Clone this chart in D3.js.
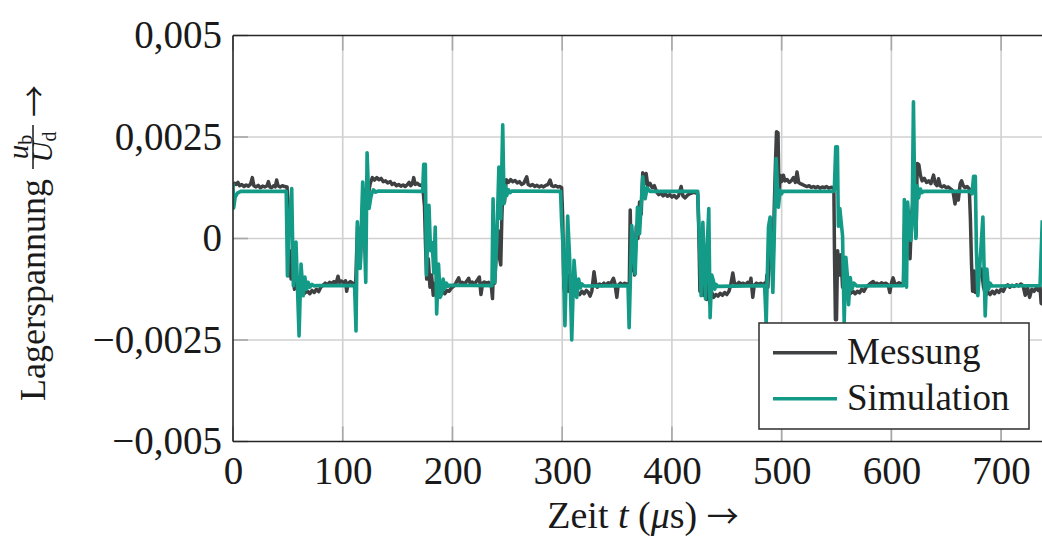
<!DOCTYPE html>
<html><head><meta charset="utf-8">
<script src="https://cdn.jsdelivr.net/npm/d3@7"></script>
<style>
html,body{margin:0;padding:0;background:#fff;}
svg{display:block;font-family:"Liberation Serif","Times New Roman",serif;}
</style></head><body>
<svg id="chart" width="1042" height="538"></svg>
<script>
// ---- data (time in µs, voltage ratio in units of 10^-3) ----
const xTicks = [0, 100, 200, 300, 400, 500, 600, 700];
const yTicks = [-5, -2.5, 0, 2.5, 5];
const yTickLabels = ["\u22120,005", "\u22120,0025", "0", "0,0025", "0,005"];
const seriesNames = ["Messung", "Simulation"];

const messung = [
 [0,1.30],[1.5,1.36],[3,1.33],[4.5,1.38],[6,1.30],[8,1.33],[10,1.28],[12,1.32],[14,1.29],[16,1.34],[17.6,1.50],[19,1.30],[21,1.27],[23,1.31],[25,1.25],[27,1.29],[29,1.27],[31,1.30],[32.3,1.40],[33.5,1.27],[35,1.25],[37,1.30],[38.5,1.27],[39.8,1.44],[41,1.30],[43,1.27],[45,1.30],[47,1.28],[49.3,1.27],
 [50.3,0.4],[51,-0.92],[52,-0.3],[53,-1.0],[54.5,-0.7],[56,-1.25],[58,-1.1],[60,-1.35],[62,-1.28],[64,-1.38],[66,-1.33],[68,-1.3],[70,-1.36],[72,-1.28],[74,-1.33],[76,-1.25],[78,-1.31],[80,-1.2],[82,-1.15],[84,-1.1],[86,-1.14],[88,-1.08],[90,-1.11],[92,-1.06],[94,-1.1],[95.7,-0.93],[97,-1.08],[99,-1.05],[101,-1.1],[102.5,-1.04],[103.6,-1.3],[105,-1.1],[107,-1.06],[109,-1.1],[110.5,-1.12],
 [111.5,-1.4],[112.5,-0.5],[113.5,0.3],[114.5,-0.4],[116,-0.7],[117.5,0.5],[119,1.2],[120.5,0.8],[122,1.5],[123.5,1.1],[125,1.35],[127,1.5],[129,1.44],[131,1.5],[133,1.45],[135,1.48],[137,1.4],[139,1.42],[141,1.37],[143.4,1.4],[145,1.33],[147,1.36],[149,1.3],[151,1.33],[153,1.29],[155,1.32],[157,1.28],[159,1.33],[160.5,1.38],[162,1.3],[163.5,1.36],[164.7,1.5],[166,1.33],[168,1.36],[170,1.31],[172.5,1.32],
 [173.5,1.1],[174.5,0.8],[175.5,-0.2],[176.5,-1.0],[178,-0.5],[179.5,-1.2],[181,-0.9],[182.5,-1.4],[184,-1.1],[185.5,-1.45],[187,-1.2],[189,-1.38],[191,-1.3],[193,-1.36],[195,-1.28],[197,-1.3],[199,-1.22],[201,-1.18],[203,-1.1],[205.7,-0.97],[207,-1.1],[209,-1.08],[211,-1.12],[213,-1.05],[214.8,-0.98],[216,-1.1],[218,-1.07],[220,-1.12],[222,-1.05],[224.5,-0.95],[226,-1.38],[227.5,-1.1],[229,-1.07],[231,-1.1],[233,-1.08],[234.5,-1.15],
 [235.5,-1.2],[236.5,-1.48],[237.5,-0.6],[238.5,-1.1],[240,-0.3],[241.5,0.2],[243,-0.5],[244,-0.65],[245,0.5],[246,1.3],[247.5,0.9],[249,1.45],[251,1.38],[253,1.45],[255,1.4],[257,1.43],[259,1.37],[261,1.4],[263,1.33],[265,1.36],[267.7,1.52],[269,1.33],[271,1.3],[273,1.33],[275,1.28],[277,1.31],[279,1.27],[281,1.3],[283,1.27],[285,1.31],[287,1.33],[289,1.44],[290.5,1.3],[292,1.28],[294,1.3],[296,1.27],[298,1.28],[299.5,1.25],
 [300.5,0.5],[301.5,-1.2],[302.5,-1.35],[304,-0.8],[305.5,-1.3],[307,-0.9],[308.5,-1.4],[310,-1.2],[312,-1.4],[314,-1.33],[316,-1.38],[318,-1.3],[320,-1.36],[322,-1.28],[324,-1.33],[325.4,-1.42],[327,-1.3],[329,-0.82],[330.5,-1.1],[332,-1.2],[334,-1.12],[336,-1.16],[338,-1.1],[340,-1.15],[342,-1.09],[344,-1.13],[346.7,-0.98],[348,-1.1],[349.8,-1.45],[351,-1.15],[353,-1.1],[355,-1.14],[357,-1.1],[359,-1.13],[360.5,-1.12],
 [361,-1.55],[362,0.7],[363,-0.8],[364.5,-0.2],[366,-0.9],[367.5,0.3],[369,0.0],[370.5,0.9],[372,0.6],[373.4,1.62],[375,1.35],[376.5,1.6],[378,1.3],[380,1.36],[382,1.25],[384,1.3],[386,1.15],[388,1.08],[390,1.12],[392,1.05],[394,1.1],[396,1.04],[398,1.08],[400,1.02],[402,1.06],[404,1.0],[406,1.05],[408.4,1.28],[410,1.05],[412,1.0],[414,1.06],[416,1.1],[418,1.12],[420,1.14],[422,1.12],[423.5,1.1],
 [424.5,0.2],[425.5,-1.3],[426.5,-0.7],[427.5,-0.1],[428.5,-1.4],[430,-0.8],[431.5,-1.5],[433,-1.0],[434.5,-1.6],[436,-1.3],[438,-1.45],[440,-1.38],[442,-1.42],[444,-1.35],[446,-1.4],[448,-1.33],[450,-1.38],[452,-1.3],[453.5,-1.15],[455.5,-0.85],[457,-1.1],[459,-1.14],[461,-1.08],[463,-1.12],[465,-1.1],[467,-1.14],[469,-1.08],[471,-1.11],[472,-0.98],[473.7,-1.45],[475,-1.15],[477,-1.1],[479,-1.13],[481,-1.1],[483,-1.14],[484.5,-1.1],
 [485.5,-1.4],[486.5,-0.9],[487.5,-1.2],[489,0.2],[490.5,-0.3],[492,-1.0],[493,0.5],[494.3,1.8],[495.3,2.63],[496.7,2.6],[497.6,1.0],[498.6,1.56],[500,1.4],[501.6,1.56],[503,1.42],[505,1.45],[507,1.38],[509,1.43],[510.8,1.5],[512.5,1.38],[514,1.64],[515.5,1.38],[517,1.35],[519,1.33],[521,1.3],[523,1.28],[525,1.3],[527,1.26],[529,1.28],[531,1.25],[533,1.28],[535,1.24],[537,1.27],[539,1.25],[541,1.28],[543,1.24],[545,1.26],[547,1.25],
 [547.6,1.2],[548.2,-0.5],[549,-2.0],[550,-2.0],[551,-0.3],[552.5,-0.9],[554,-0.4],[555.5,-1.2],[557,-0.9],[559,-1.4],[561,-1.25],[563,-1.35],[565,-1.3],[567,-1.36],[569,-1.3],[571,-1.34],[573,-1.25],[575,-1.3],[577,-1.2],[579,-1.15],[581,-1.1],[583.4,-1.06],[585,-1.12],[587,-1.1],[589,-1.14],[591,-1.09],[593,-1.12],[595,-1.1],[597,-1.14],[598.6,-1.33],[600,-1.1],[601.6,-0.97],[603,-1.1],[605,-1.13],[607,-1.09],[609,-1.12],[610.5,-1.1],
 [611,-1.15],[612,0.3],[613,0.75],[614,-0.2],[615.5,0.2],[617,-0.5],[618.5,0.6],[620,1.0],[621.5,0.5],[622.5,0.05],[623.5,1.85],[625,1.82],[626.5,1.55],[628,1.42],[630,1.48],[632,1.38],[634,1.42],[636,1.35],[638.4,1.56],[640,1.35],[641.5,1.3],[643,1.47],[644.5,1.3],[646,1.27],[648,1.3],[650,1.25],[652,1.27],[654,1.22],[656,1.18],[658,0.85],[659.5,1.15],[661,0.95],[662.7,1.35],[664,1.42],[665.5,1.3],[667,1.25],[669,1.28],[671,1.22],
 [672,0.5],[673,-0.6],[674,-1.3],[675.5,-0.8],[676.5,-1.33],[678,-1.1],[680,-0.9],[682,-0.75],[684,-1.2],[686,-1.4],[688,-1.32],[690,-1.38],[692,-1.3],[694,-1.36],[696,-1.28],[698,-1.33],[700,-1.25],[702,-1.3],[704,-1.18],[706,-1.14],[708,-1.2],[710,-1.15],[712,-1.18],[714,-1.14],[716,-1.17],[718,-1.12],[720,-1.16],[722,-1.4],[724,-1.2],[726,-1.45],[728,-1.25],[730,-1.3],[732,-1.22],[734,-1.28],[735.5,-1.2],[736.5,-1.6],[738,-1.62]
];

const simulation = [
 [0,1.36],[0.6,0.75],[2,1.02],[4,1.12],[7,1.16],[48.5,1.16],
 [49.6,-0.92],[51.5,0.5],[53.5,1.23],[55,-1.16],[57.4,-0.09],[60.2,-2.4],[62,-0.63],[64,-1.41],[65.5,-0.95],[67,-1.25],[68.5,-1.08],[70,-1.2],[72,-1.13],[74,-1.17],[76,-1.16],[110.8,-1.16],
 [112.1,-2.28],[113.3,0.41],[115.8,-0.74],[118.2,1.39],[121,-1.08],[122.2,2.11],[124,0.74],[125.5,1.0],[126.4,1.1],[128,1.2],[130,1.14],[132,1.17],[172.8,1.16],
 [173.8,1.83],[175.3,1.83],[176.3,-0.9],[177.5,0.1],[178.6,0.82],[180,-0.3],[181.5,-0.1],[183,-0.85],[184.3,0.28],[185.6,-1.86],[187.3,-0.63],[188.8,-1.45],[190.2,-1.36],[191.5,-1.0],[193,-1.24],[194.5,-1.1],[196,-1.18],[198,-1.15],[236,-1.16],
 [237,0.98],[238.5,-1.08],[240.4,-0.05],[242.3,1.76],[244,0.49],[245.8,2.8],[247,0.86],[248.3,1.3],[249.5,1.06],[251,1.2],[252.5,1.13],[254,1.17],[298.5,1.16],
 [299.5,0.4],[300.8,-0.2],[302.5,-2.15],[305,0.55],[306.8,-0.5],[308.7,-2.5],[310.8,-0.54],[313.3,-1.45],[315,-1.0],[316.5,-1.22],[318,-1.12],[320,-1.17],[360,-1.16],
 [361,-2.2],[363.4,0.32],[366.5,-0.87],[368.6,0.77],[370.5,0.12],[373.4,1.52],[375.6,0.98],[377.5,1.25],[380,1.16],[423.5,1.16],
 [425,0.0],[426.6,-1.41],[428.2,0.4],[430.6,-1.49],[432,-0.3],[433.6,0.74],[434.8,-1.95],[436.3,-0.9],[437.8,-1.04],[439,-1.25],[440.3,-1.13],[442,-1.18],[484.5,-1.16],
 [485.9,-2.11],[488,0.28],[489.5,0.53],[492,-1.33],[495,1.97],[497,0.77],[498.6,1.19],[500,1.1],[501,1.16],[547,1.16],
 [548,1.2],[549.3,2.26],[550.8,2.26],[551.7,0.3],[553,0.74],[555.5,0.07],[557,-2.07],[558.5,-0.46],[560,-0.96],[561,-1.63],[562.5,-0.96],[564,-1.25],[566,-1.1],[568.5,-1.17],[611,-1.16],
 [611.8,0.96],[612.8,-0.2],[613.8,-1.2],[614.8,0.9],[616.3,0.3],[617.8,-0.05],[619,0.6],[620.1,3.37],[621.5,0.6],[622.3,0.0],[623.5,1.3],[624.7,1.0],[626.5,1.22],[628,1.13],[629.5,1.16],[672,1.16],
 [673.5,1.1],[674.9,1.53],[676.5,1.53],[677.5,-0.3],[678.8,-1.41],[681,-0.5],[683.4,0.53],[685.5,-1.91],[687,-0.75],[688.5,-1.25],[690,-1.1],[691.6,-1.17],[735.5,-1.16],[737.5,0.45]
];

// ---- styles / layout ----
const colors = {Messung: "#3f4041", Simulation: "#139b87"};
const W = 1042, H = 538;
const plot = {left: 233, top: 35.5, bottom: 441.5, right: 1045};
const FS_TICK = 39, FS_LABEL = 38, FS_YLAB = 36, FS_LEG = 37;
const TXT = "#1a1a1a";
const ARROW_FONT = "'Noto Sans CJK JP', 'DejaVu Sans', sans-serif";

const svg = d3.select("#chart");
const x = d3.scaleLinear().domain([0, 740]).range([plot.left, plot.right]);
const y = d3.scaleLinear().domain([-5, 5]).range([plot.bottom, plot.top]);

svg.append("rect").attr("width", W).attr("height", H).attr("fill", "#fff");

// grid
const grid = svg.append("g");
grid.selectAll("line.gx").data(xTicks.filter(d => d > 0)).join("line")
  .attr("x1", d => x(d)).attr("x2", d => x(d)).attr("y1", plot.top).attr("y2", plot.bottom)
  .attr("stroke", "#d0d0d0").attr("stroke-width", 1.6);
grid.selectAll("line.gy").data(yTicks.filter(d => d > -5 && d < 5)).join("line")
  .attr("x1", plot.left).attr("x2", plot.right).attr("y1", d => y(d)).attr("y2", d => y(d))
  .attr("stroke", "#d0d0d0").attr("stroke-width", 1.6);

// inner tick marks
const tk = svg.append("g").attr("stroke", "#a8a8a8").attr("stroke-width", 1.6);
tk.selectAll("line.tl").data(yTicks).join("line")
  .attr("x1", plot.left).attr("x2", plot.left + 15).attr("y1", d => y(d)).attr("y2", d => y(d));
tk.selectAll("line.tb").data(xTicks).join("line")
  .attr("x1", d => x(d)).attr("x2", d => x(d)).attr("y1", plot.bottom).attr("y2", plot.bottom - 15);
tk.selectAll("line.tt").data(xTicks).join("line")
  .attr("x1", d => x(d)).attr("x2", d => x(d)).attr("y1", plot.top).attr("y2", plot.top + 15);

// clip
svg.append("clipPath").attr("id", "clip").append("rect")
  .attr("x", plot.left).attr("y", plot.top - 10).attr("width", plot.right - plot.left).attr("height", plot.bottom - plot.top + 20);

const line = d3.line().x(d => x(d[0])).y(d => y(d[1]));
const lines = svg.append("g").attr("clip-path", "url(#clip)");
lines.append("path").datum(messung).attr("d", line).attr("fill", "none")
  .attr("stroke", colors.Messung).attr("stroke-width", 3.5).attr("stroke-linejoin", "round");
lines.append("path").datum(simulation).attr("d", line).attr("fill", "none")
  .attr("stroke", colors.Simulation).attr("stroke-width", 3.6).attr("stroke-linejoin", "round");

// frame
const frame = svg.append("g").attr("stroke", "#262626").attr("stroke-width", 1.6).attr("fill", "none");
frame.append("line").attr("x1", plot.left).attr("x2", plot.left).attr("y1", plot.top).attr("y2", plot.bottom);
frame.append("line").attr("x1", plot.left).attr("x2", plot.right).attr("y1", plot.bottom).attr("y2", plot.bottom);
frame.append("line").attr("x1", plot.left).attr("x2", plot.right).attr("y1", plot.top).attr("y2", plot.top);

// axes labels
const xAxis = svg.append("g").attr("transform", `translate(0,${plot.bottom})`)
  .call(d3.axisBottom(x).tickValues(xTicks).tickSize(0).tickPadding(15).tickFormat(d3.format("d")));
const yAxis = svg.append("g").attr("transform", `translate(${plot.left},0)`)
  .call(d3.axisLeft(y).tickValues(yTicks).tickSize(0).tickPadding(11).tickFormat((d, i) => yTickLabels[i]));
[xAxis, yAxis].forEach(a => {
  a.select(".domain").remove();
  a.selectAll("text").attr("font-family", "Liberation Serif").attr("font-size", FS_TICK).attr("fill", TXT);
});

// x label
const xl = svg.append("text").attr("x", 643).attr("y", 528).attr("text-anchor", "middle")
  .attr("font-size", FS_LABEL).attr("fill", TXT);
xl.append("tspan").text("Zeit ");
xl.append("tspan").attr("font-style", "italic").text("t");
xl.append("tspan").text(" (");
xl.append("tspan").attr("font-style", "italic").text("\u03bc");
xl.append("tspan").text("s) ");
xl.append("tspan").attr("font-family", ARROW_FONT).attr("font-size", 32).text("\u2192");

// y label (rotated)
const yl = svg.append("g").attr("transform", "translate(45,0) rotate(-90)").attr("fill", TXT);
yl.append("text").attr("x", -401).attr("y", 0).attr("font-size", FS_YLAB).text("Lagerspannung");
const num = yl.append("text").attr("x", -147).attr("y", -17).attr("text-anchor", "middle").attr("font-size", 29);
num.append("tspan").attr("font-style", "italic").text("u");
num.append("tspan").attr("font-size", 20).attr("dy", 4).text("b");
yl.append("line").attr("x1", -169).attr("x2", -125).attr("y1", -12).attr("y2", -12)
  .attr("stroke", TXT).attr("stroke-width", 1.5);
const den = yl.append("text").attr("x", -147).attr("y", 7).attr("text-anchor", "middle").attr("font-size", 29);
den.append("tspan").attr("font-style", "italic").text("U");
den.append("tspan").attr("font-size", 20).attr("dy", 4).text("d");
yl.append("text").attr("x", -117).attr("y", 1).attr("font-family", ARROW_FONT).attr("font-size", 32).text("\u2192");

// legend
const lg = svg.append("g");
lg.append("rect").attr("x", 759).attr("y", 323).attr("width", 270).attr("height", 106)
  .attr("fill", "#fff").attr("stroke", "#3a3a3a").attr("stroke-width", 1.6);
seriesNames.forEach((name, i) => {
  const cy = 352.7 + i * 46;
  lg.append("line").attr("x1", 773).attr("x2", 837).attr("y1", cy).attr("y2", cy)
    .attr("stroke", colors[name]).attr("stroke-width", 3.6);
  lg.append("text").attr("x", 847).attr("y", cy + 11).attr("font-size", FS_LEG).attr("fill", TXT).text(name);
});
</script>
</body></html>
